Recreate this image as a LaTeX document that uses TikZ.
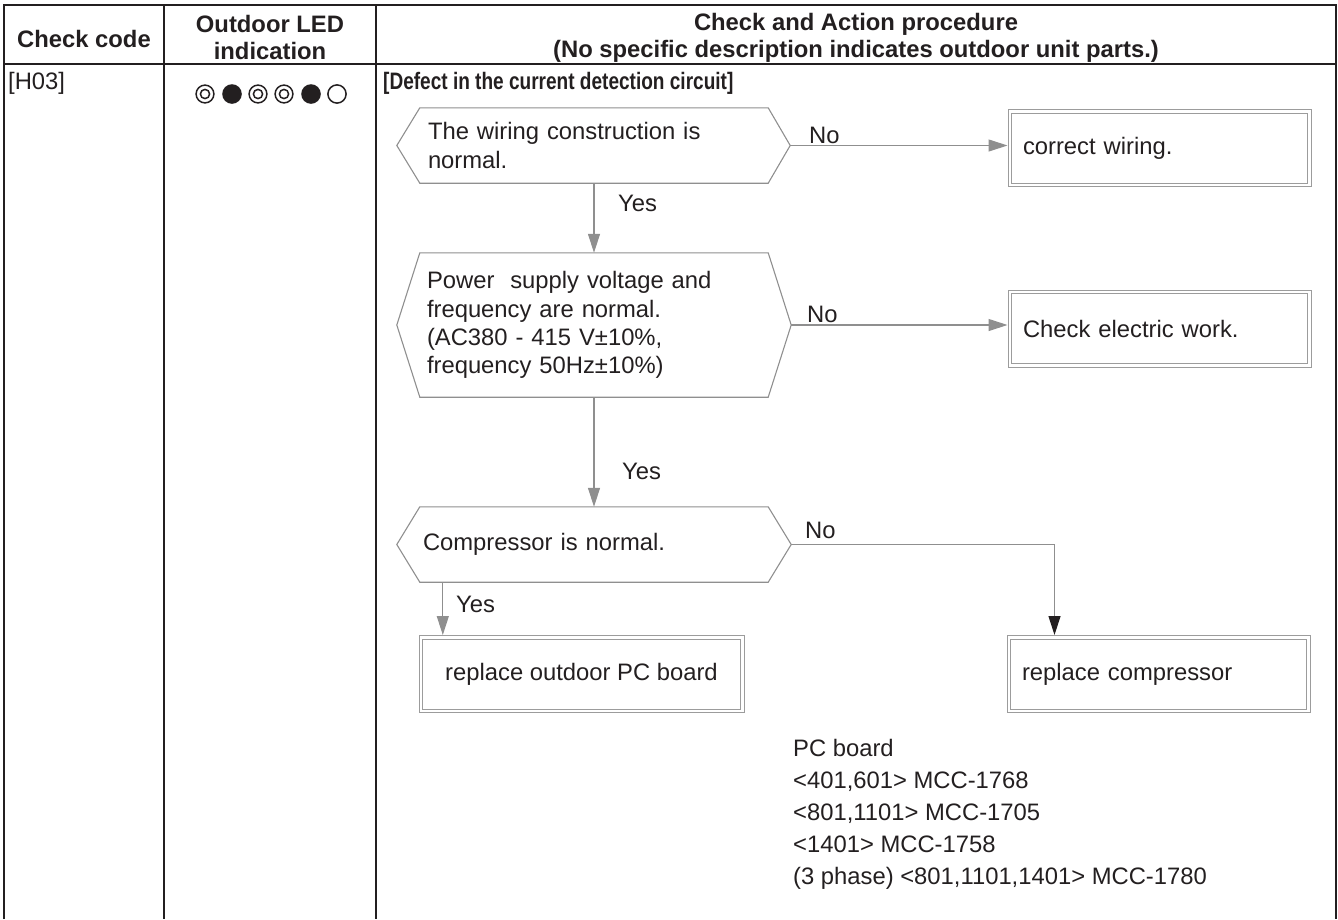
\documentclass[tikz,border=0pt]{standalone}
\usepackage{fontspec}
\setmainfont{Liberation Sans}
\newfontfamily\narrowsans[FakeStretch=0.80]{Liberation Sans}
\usetikzlibrary{arrows.meta}

\definecolor{ink}{HTML}{231F20}
\definecolor{flow}{HTML}{8F8F8F}
\definecolor{frame}{HTML}{9C9C9C}

\tikzset{
  txt/.style={font=\fontsize{23.8}{28.3}\selectfont, text=ink, inner sep=0pt},
  head/.style={font=\fontsize{23.8}{27}\selectfont\bfseries, text=ink, inner sep=0pt, align=center},
  grid/.style={draw=ink, line width=1.6pt},
  hexin/.style={txt, align=left, inner xsep=8pt, text width=332pt, minimum height=75pt},
  hexline/.style={draw=flow, line width=1.1pt, line join=miter},
  actbox/.style={txt, align=left, draw=frame, line width=1pt,
    minimum height=77pt, inner xsep=15pt, text width=273pt},
  innerframe/.style={draw=frame, line width=1pt},
  flowline/.style={draw=flow, line width=1.1pt},
  flowarrow/.style={flowline, -{Triangle[length=19pt,width=12pt]}},
  lbl/.style={txt, anchor=west},
  ledring/.style={draw=ink, line width=1.5pt},
  ledlit/.style={fill=ink},
}

\begin{document}
\begin{tikzpicture}[x=1pt,y=-1pt]
\useasboundingbox (0,0) rectangle (1338,919);

% table frame and rulings
\draw[grid] (4,919) -- (4,5) -- (1336,5) -- (1336,919);
\draw[grid] (4,64) -- (1336,64);
\draw[grid] (164,5) -- (164,919);
\draw[grid] (376,5) -- (376,919);

% column headings
\node[head] (hcode) at (84,39) {Check code};
\node[head] (hled) at (270,37.5) {Outdoor LED\\indication};
\node[head] (hproc) at (856,37.5) {Check and Action procedure\\(No specific description indicates outdoor unit parts.)};

% row entries
\node[lbl] (code) at (8,83) {[H03]};
\node[txt, anchor=west, font=\fontsize{23.8}{28}\selectfont\narrowsans\bfseries] (title) at (383,83)
  {[Defect in the current detection circuit]};

% LED pattern: double ring, lit, double ring, double ring, lit, off
\foreach \cx in {205,258,284} {
  \draw[ledring] (\cx,94) circle (8.9);
  \draw[ledring] (\cx,94) circle (4.6);
}
\foreach \cx in {232,311} {
  \fill[ledlit] (\cx,94) circle (9.8);
}
\draw[ledring] (337,94) circle (9.1);

% decision 1
\node[hexin] (h1) at (594,145.5) {The wiring construction is\\normal.};
\draw[hexline] (h1.north west) -- (h1.north east) -- ([xshift=22pt]h1.east) coordinate (h1r)
  -- (h1.south east) -- (h1.south west) -- ([xshift=-23pt]h1.west) coordinate (h1l) -- cycle;

% decision 2
\node[hexin, minimum height=144pt, inner xsep=7pt, text width=334pt] (h2) at (594,325)
  {Power\ \ supply voltage and\\frequency are normal.\\(AC380 - 415 V±10\%,\\frequency 50Hz±10\%)};
\draw[hexline] (h2.north west) -- (h2.north east) -- ([xshift=23pt]h2.east) coordinate (h2r)
  -- (h2.south east) -- (h2.south west) -- ([xshift=-23pt]h2.west) coordinate (h2l) -- cycle;

% decision 3
\node[hexin, inner xsep=3pt, text width=342pt] (h3) at (594,544.5) {Compressor is normal.};
\draw[hexline] (h3.north west) -- (h3.north east) -- ([xshift=23pt]h3.east) coordinate (h3r)
  -- (h3.south east) -- (h3.south west) -- ([xshift=-23pt]h3.west) coordinate (h3l) -- cycle;

% actions (double frames)
\node[actbox] (b1) at (1159.5,148) {correct wiring.};
\node[actbox] (b2) at (1159.5,328.5) {Check electric work.};
\node[actbox] (b3) at (1158.5,674) {replace compressor};
\node[actbox, align=center, text width=, minimum width=325pt, inner xsep=0pt] (b4) at (581.5,674) {replace outdoor PC board};
\foreach \b in {b1,b2,b3,b4} {
  \draw[innerframe] ([shift={(4,4)}]\b.north west) rectangle ([shift={(-4,-4)}]\b.south east);
}

% connectors
\draw[flowarrow] (h1.south) -- (h2.north);
\draw[flowarrow] (h2.south) -- (h3.north);
\draw[flowarrow] (h1r) -- (h1r -| b1.west);
\draw[flowarrow] (h2r) -- (h2r -| b2.west);
\draw[flowline, -{Triangle[length=19pt,width=12pt,color=ink]}]
  (h3r) -| ([xshift=48pt]b3.north west);
\draw[flowarrow] ([xshift=23pt]h3.south west) -- ([xshift=23pt]h3.south west |- b4.north);

% branch labels
\node[lbl] (y1) at (618,203) {Yes};
\node[lbl] (y2) at (622,471) {Yes};
\node[lbl] (y3) at (456,604) {Yes};
\node[lbl] (n1) at (809,135) {No};
\node[lbl] (n2) at (807,314) {No};
\node[lbl] (n3) at (805,530) {No};

% board list
\node[txt, anchor=north west, align=left, font=\fontsize{23.8}{32}\selectfont] (boards) at (793,739.5)
  {PC board\\<401,601> MCC-1768\\<801,1101> MCC-1705\\<1401> MCC-1758\\(3 phase) <801,1101,1401> MCC-1780};
\end{tikzpicture}
\end{document}
